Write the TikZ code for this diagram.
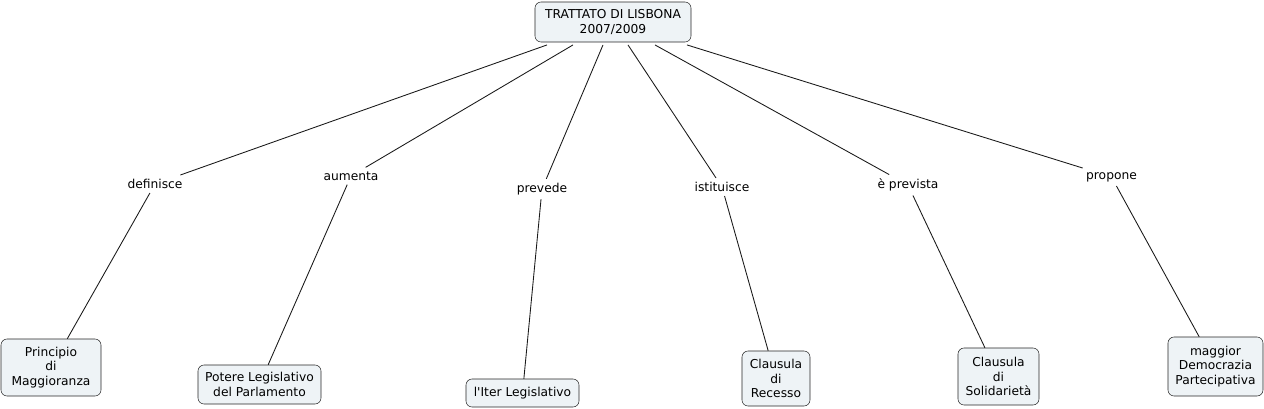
\documentclass[tikz,border=0pt]{standalone}
\usepackage{fontspec}
\setmainfont{DejaVu Sans}
\usetikzlibrary{positioning}
\definecolor{conceptfill}{RGB}{238,243,246}
\tikzset{
  concept/.style={draw=black!85, fill=conceptfill, rounded corners=4.5pt, align=center, inner sep=0pt, font=\fontsize{9.2}{11}\selectfont},
  phrase/.style={inner sep=3pt, font=\fontsize{9.2}{11}\selectfont},
  link/.style={draw=black!90, line width=0.65pt},
}

\begin{document}
\begin{tikzpicture}[x=0.75pt, y=-0.75pt]
  \useasboundingbox (0,0) rectangle (1264,408);
  % concetti
  \node[concept, minimum width=117pt, minimum height=30pt] (trattato) at (613,22) {TRATTATO DI LISBONA\\2007/2009};
  \node[concept, minimum width=75pt, minimum height=42.75pt] (principio) at (51,367.5) {Principio\\di\\Maggioranza};
  \node[concept, minimum width=92.25pt, minimum height=29.25pt] (potere) at (259.5,384.5) {Potere Legislativo\\del Parlamento};
  \node[concept, minimum width=84.75pt, minimum height=21pt] (iter) at (522.5,393) {l\textquotesingle Iter Legislativo};
  \node[concept, minimum width=51pt, minimum height=41.25pt] (recesso) at (776,378.5) {Clausula\\di\\Recesso};
  \node[concept, minimum width=60.75pt, minimum height=42.75pt] (solidarieta) at (998.5,376.5) {Clausula\\di\\Solidarietà};
  \node[concept, minimum width=71.25pt, minimum height=44.25pt] (democrazia) at (1215.5,366.5) {maggior\\Democrazia\\Partecipativa};
  % frasi di collegamento
  \node[phrase] (definisce) at (155,184) {definisce};
  \node[phrase] (aumenta) at (351,176) {aumenta};
  \node[phrase] (prevede) at (542,189) {prevede};
  \node[phrase] (istituisce) at (722,187) {istituisce};
  \node[phrase] (prevista) at (908,185) {è prevista};
  \node[phrase] (propone) at (1111.5,177) {propone};
  % collegamenti
  \draw[link] ([xshift=-49.5pt, yshift=-2pt]trattato.south) -- (definisce) -- (principio);
  \draw[link] ([xshift=-30pt, yshift=-2pt]trattato.south) -- (aumenta) -- (potere);
  \draw[link] ([xshift=-7.5pt, yshift=-2pt]trattato.south) -- (prevede) -- (iter);
  \draw[link] ([xshift=11.25pt, yshift=-2pt]trattato.south) -- (istituisce) -- (recesso);
  \draw[link] ([xshift=31.5pt, yshift=-2pt]trattato.south) -- (prevista) -- (solidarieta);
  \draw[link] ([xshift=55.5pt, yshift=-2pt]trattato.south) -- (propone) -- (democrazia);
\end{tikzpicture}
\end{document}
